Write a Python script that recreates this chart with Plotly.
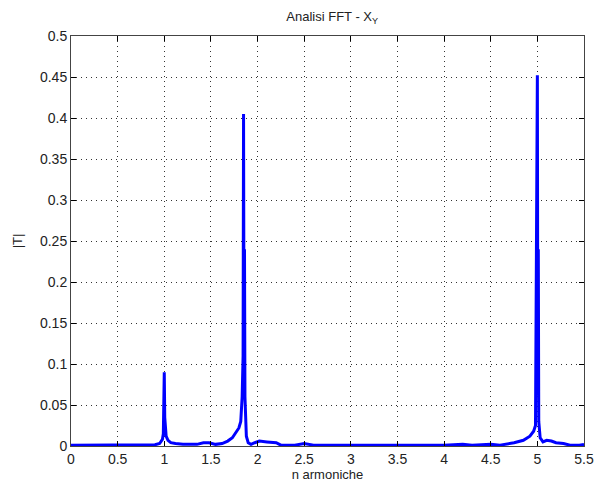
import plotly.graph_objects as go

# harmonic order (x) and |T| magnitude (y)
harm = [0.0, 0.3, 0.6, 0.9, 0.95, 0.98, 0.99, 1.0, 1.005, 1.01, 1.02, 1.04, 1.07, 1.12, 1.2, 1.35,
        1.42, 1.48, 1.55, 1.62, 1.68, 1.73, 1.77, 1.80, 1.82, 1.835, 1.845, 1.85, 1.855, 1.86, 1.865,
        1.87, 1.88, 1.9, 1.93, 1.97, 2.02, 2.1, 2.2, 2.25, 2.4, 2.5, 2.6, 3.0, 3.5, 4.0, 4.2, 4.3,
        4.5, 4.6, 4.75, 4.85, 4.92, 4.96, 4.98, 4.99, 4.995, 5.0, 5.005, 5.01, 5.015, 5.03, 5.06,
        5.1, 5.15, 5.2, 5.28, 5.35, 5.45, 5.5]
mag = [0.001, 0.001, 0.001, 0.0015, 0.003, 0.008, 0.015, 0.09, 0.035, 0.02, 0.012, 0.007, 0.004,
       0.003, 0.002, 0.002, 0.004, 0.004, 0.002, 0.003, 0.006, 0.01, 0.016, 0.022, 0.03, 0.06,
       0.11, 0.405, 0.12, 0.24, 0.06, 0.03, 0.012, 0.004, 0.002, 0.004, 0.006, 0.005, 0.004,
       0.001, 0.001, 0.003, 0.001, 0.001, 0.001, 0.001, 0.002, 0.001, 0.002, 0.001, 0.004, 0.007,
       0.012, 0.018, 0.025, 0.255, 0.2, 0.452, 0.1, 0.24, 0.03, 0.01, 0.005, 0.007, 0.006, 0.004,
       0.003, 0.001, 0.001, 0.002]

xticks = [0, 0.5, 1, 1.5, 2, 2.5, 3, 3.5, 4, 4.5, 5, 5.5]
xticklabels = ["0", "0.5", "1", "1.5", "2", "2.5", "3", "3.5", "4", "4.5", "5", "5.5"]
yticks = [0, 0.05, 0.1, 0.15, 0.2, 0.25, 0.3, 0.35, 0.4, 0.45, 0.5]
yticklabels = ["0", "0.05", "0.1", "0.15", "0.2", "0.25", "0.3", "0.35", "0.4", "0.45", "0.5"]

fig = go.Figure()
fig.add_trace(go.Scatter(x=harm, y=mag, mode="lines",
                         line=dict(color="#0000ff", width=3), showlegend=False))

font = dict(family="Liberation Sans, Arial, sans-serif", size=13, color="#222222")
tickfont = dict(family="Liberation Sans, Arial, sans-serif", size=14, color="#222222")
axis_common = dict(showline=True, linecolor="#444444", linewidth=1, mirror="ticks",
                   ticks="inside", ticklen=5, tickcolor="#000000",
                   showgrid=True, gridcolor="#333333", griddash="1px,4px", gridwidth=1,
                   zeroline=False, tickfont=tickfont)

fig.update_layout(
    width=604, height=493,
    margin=dict(l=71, r=10, t=36, b=47),
    paper_bgcolor="#ffffff", plot_bgcolor="#ffffff",
    font=font,
    title=dict(text="Analisi FFT - X<sub>Y</sub>", x=0.55, xanchor="center",
               y=0.975, yanchor="top", font=dict(size=13)),
    xaxis=dict(range=[0, 5.5], tickvals=xticks, ticktext=xticklabels,
               title=dict(text="n armoniche", standoff=4, font=font), **axis_common),
    yaxis=dict(range=[0, 0.5], tickvals=yticks, ticktext=yticklabels,
               title=dict(text="|T|", standoff=14, font=font), **axis_common),
)

fig.write_html("out.html")
